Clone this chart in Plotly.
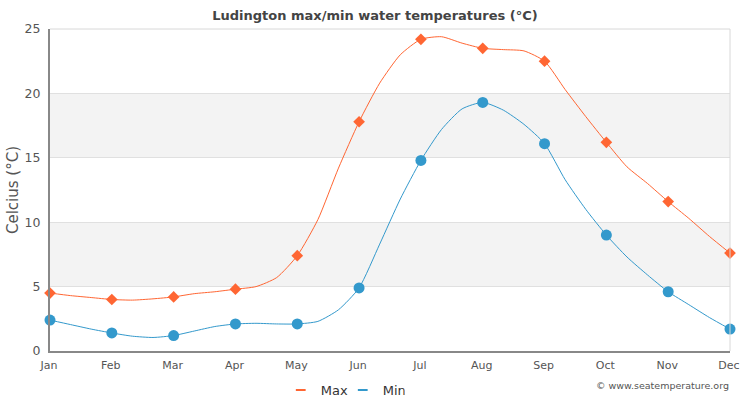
import plotly.graph_objects as go

MONTHS = ['Jan','Feb','Mar','Apr','May','Jun','Jul','Aug','Sep','Oct','Nov','Dec']
MONTH_POSITIONS = [0,1,2,3,4,5,6,7,8,9,10,11]

MAX_MONTHLY = [4.5,4.0,4.2,4.8,7.4,17.8,24.2,23.5,22.5,16.2,11.6,7.6]
MIN_MONTHLY = [2.4,1.4,1.2,2.1,2.1,4.9,14.8,19.3,16.1,9.0,4.6,1.7]

# The curves have more detail than the monthly markers, read every third of a month.
CURVE_POSITIONS = [i/3 for i in range(34)]
MAX_CURVE = [
	4.5,4.3,4.15, 4.0,3.95,4.05, 4.2,4.45,4.6, 4.8,5.0,5.7,
	7.4,10.2,14.2, 17.8,20.8,23.0, 24.2,24.4,23.9, 23.5,23.4,23.3,
	22.5,20.3,18.2, 16.2,14.3,13.0, 11.6,10.3,8.9, 7.6,
]
MIN_CURVE = [
	2.4,2.05,1.7, 1.4,1.15,1.05, 1.2,1.55,1.9, 2.1,2.15,2.1,
	2.1,2.3,3.2, 4.9,8.3,11.8, 14.8,17.2,18.8, 19.3,18.7,17.6,
	16.1,13.3,11.0, 9.0,7.3,5.9, 4.6,3.6,2.6, 1.7,
]

SHADED_BANDS = [(5,10),(15,20)]

COLOR_MAX = '#ff6633'
COLOR_MIN = '#3399cc'
TITLE_COLOR = '#444444'
TEXT_COLOR = '#555555'

fig = go.Figure()

for name, color, symbol, size, curve, monthly in [
	('Max', COLOR_MAX, 'diamond', 9, MAX_CURVE, MAX_MONTHLY),
	('Min', COLOR_MIN, 'circle', 11, MIN_CURVE, MIN_MONTHLY),
]:
	fig.add_trace(
		go.Scatter(
			x = CURVE_POSITIONS,
			y = curve,
			mode = 'lines',
			line = dict(color=color, width=1, shape='spline', smoothing=0.6),
			showlegend = False,
			hoverinfo = 'skip',
			cliponaxis = False,
		)
	)
	fig.add_trace(
		go.Scatter(
			x = MONTH_POSITIONS,
			y = monthly,
			mode = 'markers',
			marker = dict(color=color, size=size, symbol=symbol),
			showlegend = False,
			name = name,
			cliponaxis = False,
		)
	)
	# Only for the short dash in the legend.
	fig.add_trace(
		go.Scatter(
			x = [None],
			y = [None],
			mode = 'markers',
			marker = dict(symbol='line-ew', size=7, line=dict(color=color, width=2)),
			name = name,
		)
	)

for y0, y1 in SHADED_BANDS:
	fig.add_shape(
		type = 'rect',
		xref = 'x',
		yref = 'y',
		x0 = 0,
		x1 = 11,
		y0 = y0,
		y1 = y1,
		fillcolor = '#f3f3f3',
		line_width = 0,
		layer = 'below',
	)

fig.update_layout(
	width = 750,
	height = 400,
	margin = dict(l=50, r=20, t=29, b=49, autoexpand=False),
	paper_bgcolor = 'white',
	plot_bgcolor = 'white',
	font = dict(family='DejaVu Sans', color=TEXT_COLOR),
	title = dict(
		text = '<b>Ludington max/min water temperatures (°C)</b>',
		font = dict(size=13, color=TITLE_COLOR),
		x = 0.5,
		xanchor = 'center',
		y = 0.961,
		yanchor = 'middle',
	),
	legend = dict(
		orientation = 'h',
		entrywidth = 17,
		x = 0.4305,
		xanchor = 'center',
		y = -0.075,
		yanchor = 'top',
		font = dict(size=13, color='#333333'),
		bgcolor = 'rgba(0,0,0,0)',
	),
	annotations = [
		dict(
			text = '© www.seatemperature.org',
			xref = 'paper',
			yref = 'paper',
			x = 1,
			xanchor = 'right',
			xshift = 1,
			y = -0.106,
			yanchor = 'middle',
			showarrow = False,
			font = dict(size=9.5, color=TEXT_COLOR),
		),
	],
)

fig.update_xaxes(
	range = [0,11],
	tickmode = 'array',
	tickvals = MONTH_POSITIONS,
	ticktext = MONTHS,
	tickfont = dict(size=11, color=TEXT_COLOR),
	ticks = '',
	ticklabelstandoff = 3,
	ticklabelshift = -1,
	showgrid = False,
	zeroline = False,
	showline = True,
	linecolor = '#888888',
	linewidth = 2,
	mirror = False,
)
fig.update_yaxes(
	range = [0,25],
	tickvals = [0,5,10,15,20,25],
	tickfont = dict(size=12.5, color=TEXT_COLOR),
	ticks = '',
	ticklabelstandoff = 5,
	showgrid = True,
	gridcolor = '#e0e0e0',
	gridwidth = 1,
	zeroline = False,
	showline = True,
	linecolor = '#888888',
	linewidth = 2,
	automargin = True,
	title = dict(text='Celcius (°C)', font=dict(size=15, color=TEXT_COLOR), standoff=2),
)

# Thin light border on the top and right of the plot area
fig.add_shape(type='line', xref='paper', yref='paper', x0=0, x1=1, y0=1, y1=1, line=dict(color='#d8d8d8', width=1))
fig.add_shape(type='line', xref='paper', yref='paper', x0=1, x1=1, y0=0, y1=1, line=dict(color='#d8d8d8', width=1))

fig.write_html('out.html', config=dict(displayModeBar=False), post_script="document.body.style.margin = '0';")
